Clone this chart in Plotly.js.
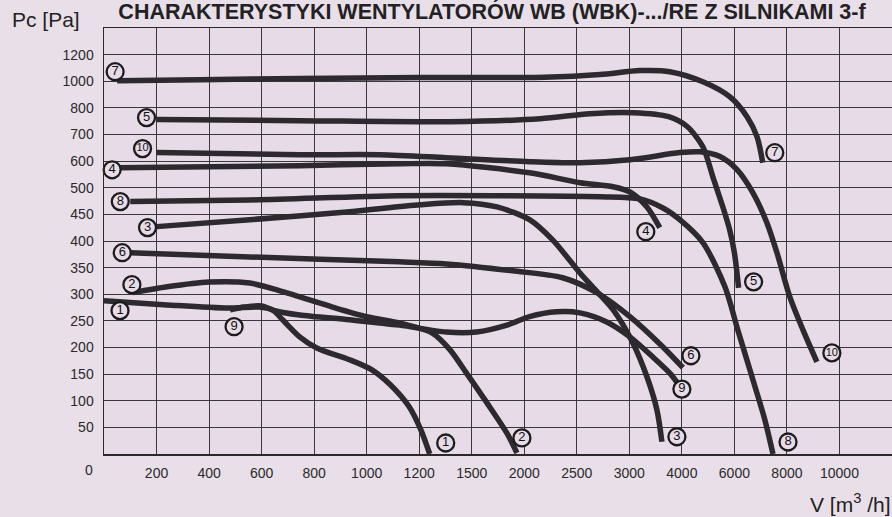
<!DOCTYPE html>
<html>
<head>
<meta charset="utf-8">
<script src="https://cdn.plot.ly/plotly-3.0.1.min.js"></script>
<style>html,body{margin:0;padding:0;background:#e7dee8;}#chart{width:892px;height:517px;}</style>
</head>
<body>
<div id="chart"></div>
<script>
// Axis tick values (non-uniform scales, equally spaced on the chart)
const xTicks = [0,200,400,600,800,1000,1200,1500,2000,2500,3000,4000,6000,8000,10000];
const yTicks = [0,50,100,150,200,250,300,350,400,450,500,600,700,800,1000,1200];

// Fan curves: V [m3/h] and Pc [Pa]
const c1x = [0,240,470,590,640,680,745,810,935,1020,1090,1160,1210,1260];
const c1y = [288,280,274,276,271,252,220,199,177,158,130,90,45,0];
const c2x = [110,240,400,555,680,870,1000,1125,1275,1375,1470,1645,1835,1930];
const c2y = [303,314,323,321,305,276,258,246,227,196,152,96,39,2];
const c3x = [200,555,935,1205,1450,1740,2050,2270,2530,2650,2845,3065,3335,3525,3620];
const c3y = [427,440,455,468,472,464,440,402,340,314,271,209,145,83,23];
const c4x = [50,745,1125,1355,2050,2530,2845,3010,3335,3580];
const c4y = [575,583,590,590,556,519,504,492,464,425];
const c5x = [200,745,1375,2150,2625,3070,3750,4200,4800,5180,5560,5820,6000,6160];
const c5y = [756,752,748,759,778,782,767,730,654,541,464,421,378,312];
const c6x = [100,555,1125,1355,1890,2365,2690,3010,3640,4040];
const c6y = [378,370,361,357,344,331,303,258,201,162];
const c7x = [50,365,745,1200,2195,2720,3200,3770,4800,5820,6480,6860,7080];
const c7y = [1004,1012,1020,1028,1030,1050,1080,1072,996,884,767,692,594];
const c8x = [100,555,1125,1765,2720,3200,3640,3960,4800,5640,6130,6670,7160,7470];
const c8y = [474,477,485,485,483,479,462,440,397,314,233,145,64,0];
const c9x = [480,535,600,650,745,935,1125,1355,1545,1835,2050,2310,2530,2785,3010,3450,3770,3905];
const c9y = [271,276,278,269,261,252,242,229,229,242,258,267,265,248,220,182,152,135];
const c10x = [200,745,1050,1355,2050,2530,3010,3960,4690,5450,6100,6700,7240,7620,8110,8610,9140];
const c10y = [632,624,624,613,598,594,605,632,635,617,568,491,434,378,295,233,173];

const curveNames = ['1','2','3','4','5','6','7','8','9','10'];

// label pixel offsets from curve start / end (style)
const startShift = [[16,-10],[-1,8],[-9,-1],[-5,-2],[-10,2],[-8,0],[-2,9],[-10,0],[4,-17],[-14,4]];
const endShift   = [[16,11],[5,15],[15,5],[-14,-4],[15,6],[8,12],[12,10],[15,12],[5,-7],[15,9]];

function toIdx(v, t){
  if (v <= t[0]) return 0;
  for (let i=0;i<t.length-1;i++){
    if (v <= t[i+1]) return i + (v - t[i])/(t[i+1]-t[i]);
  }
  return t.length-1;
}

const W = 892, H = 517;
const M = {l:104, r:0, t:28, b:63};
const xRange = [0,15], yRange = [0,16];
const pxX = (W-M.l-M.r)/(xRange[1]-xRange[0]);
const pxY = (H-M.t-M.b)/(yRange[1]-yRange[0]);

const curvesX = [c1x,c2x,c3x,c4x,c5x,c6x,c7x,c8x,c9x,c10x];
const curvesY = [c1y,c2y,c3y,c4y,c5y,c6y,c7y,c8y,c9y,c10y];
const lineCol = '#2c2a2e';
const bg = '#e6dbe6';
const FF = 'Liberation Sans, Arial, sans-serif';

const traces = [];
curvesX.forEach((cx,i)=>{
  const cy = curvesY[i];
  traces.push({
    x: cx.map(v=>toIdx(v,xTicks)),
    y: cy.map(v=>toIdx(v,yTicks)),
    mode:'lines', type:'scatter', hoverinfo:'skip',
    line:{color:lineCol, width:5.5, shape:'spline', smoothing:0.8}
  });
});

// circled number labels
const lx=[], ly=[], lt=[], lsz=[];
curvesX.forEach((cx,i)=>{
  const cy = curvesY[i];
  const n = cx.length-1;
  const sx = toIdx(cx[0],xTicks), sy = toIdx(cy[0],yTicks);
  const ex = toIdx(cx[n],xTicks), ey = toIdx(cy[n],yTicks);
  lx.push(sx + startShift[i][0]/pxX); ly.push(sy + startShift[i][1]/pxY); lt.push(curveNames[i]);
  lsz.push(curveNames[i].length>1?11:13);
  lx.push(ex + endShift[i][0]/pxX); ly.push(ey + endShift[i][1]/pxY); lt.push(curveNames[i]);
  lsz.push(curveNames[i].length>1?11:13);
});
traces.push({
  x: lx, y: ly, text: lt, mode:'markers+text', type:'scatter', hoverinfo:'skip',
  cliponaxis:false,
  marker:{symbol:'circle', size:17, color:bg, line:{color:'#1c1c1c', width:2.3}},
  textposition:'middle center',
  textfont:{family:FF, size:lsz, color:'#111111'}
});

const layout = {
  width:W, height:H,
  margin:M,
  paper_bgcolor:'#e8dfe8',
  plot_bgcolor:bg,
  showlegend:false,
  font:{family:FF, color:'#2a2a2a'},
  title:{
    text:'<b>CHARAKTERYSTYKI WENTYLATORÓW WB (WBK)-.../RE Z SILNIKAMI 3-f</b>',
    x:492/W, xanchor:'center', y:1, yanchor:'top', yref:'container',
    pad:{t:4},
    font:{family:FF, size:21.5, color:'#222'}
  },
  xaxis:{
    range:xRange, tickmode:'array',
    tickvals: xTicks.slice(1).map((v,i)=>i+1),
    ticktext: xTicks.slice(1).map(String),
    showgrid:true, gridcolor:'#3a383c', gridwidth:1,
    zeroline:false, showline:true, linecolor:'#2a2a2a', linewidth:1.5, mirror:true,
    ticks:'', ticklabelstandoff:6,
    tickfont:{family:FF, size:14, color:'#2a2a2a'},
    fixedrange:true
  },
  yaxis:{
    range:yRange, tickmode:'array',
    tickvals: yTicks.slice(1).map((v,i)=>i+1),
    ticktext: yTicks.slice(1).map(String),
    showgrid:true, gridcolor:'#3a383c', gridwidth:1,
    zeroline:false, showline:true, linecolor:'#2a2a2a', linewidth:1.5,
    ticks:'', ticklabelstandoff:6,
    tickfont:{family:FF, size:14, color:'#2a2a2a'},
    fixedrange:true
  },
  annotations:[
    {text:'0', xref:'paper', yref:'paper', x:(89-M.l)/(W-M.l-M.r), y:(H-M.b-470)/(H-M.t-M.b),
     xanchor:'center', yanchor:'middle', showarrow:false,
     font:{family:FF, size:14, color:'#2a2a2a'}},
    {text:'Pc [Pa]', xref:'paper', yref:'paper', x:(10-M.l)/(W-M.l-M.r), y:(H-M.b-20)/(H-M.t-M.b),
     xanchor:'left', yanchor:'middle', showarrow:false,
     font:{family:FF, size:21, color:'#222'}},
    {text:'V [m<sup>3</sup> /h]', xref:'paper', yref:'paper', x:(808-M.l)/(W-M.l-M.r), y:(H-M.b-503)/(H-M.t-M.b),
     xanchor:'left', yanchor:'middle', showarrow:false,
     font:{family:FF, size:21, color:'#222'}}
  ]
};

Plotly.newPlot('chart', traces, layout, {staticPlot:true, displayModeBar:false});
</script>
</body>
</html>
